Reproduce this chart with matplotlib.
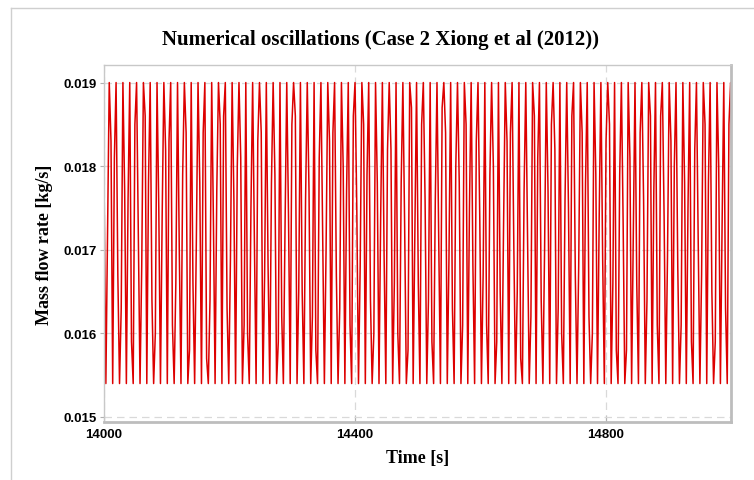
import matplotlib.pyplot as plt
from matplotlib.lines import Line2D

# Mass flow rate history, one entry per oscillation cycle
trough_times = [
    14003.0, 14013.9, 14024.8, 14035.7, 14046.6, 14057.5, 14068.3, 14079.2, 14090.1, 14101.0,
    14111.9, 14122.8, 14133.7, 14144.6, 14155.5, 14166.4, 14177.2, 14188.1, 14199.0, 14209.9,
    14220.8, 14231.7, 14242.6, 14253.5, 14264.4, 14275.3, 14286.1, 14297.0, 14307.9, 14318.8,
    14329.7, 14340.6, 14351.5, 14362.4, 14373.3, 14384.2, 14395.0, 14405.9, 14416.8, 14427.7,
    14438.6, 14449.5, 14460.4, 14471.3, 14482.2, 14493.1, 14503.9, 14514.8, 14525.7, 14536.6,
    14547.5, 14558.4, 14569.3, 14580.2, 14591.1, 14602.0, 14612.8, 14623.7, 14634.6, 14645.5,
    14656.4, 14667.3, 14678.2, 14689.1, 14700.0, 14710.9, 14721.7, 14732.6, 14743.5, 14754.4,
    14765.3, 14776.2, 14787.1, 14798.0, 14808.9, 14819.8, 14830.6, 14841.5, 14852.4, 14863.3,
    14874.2, 14885.1, 14896.0, 14906.9, 14917.8, 14928.7, 14939.5, 14950.4, 14961.3, 14972.2,
    14983.1, 14994.0,
]
rise_mid = [
    0.0172, 0.0181, 0.0163, 0.0176, 0.0185, 0.0168, 0.0178, 0.0160, 0.0174, 0.0183,
    0.0166, 0.0179, 0.0158, 0.0171, 0.0184, 0.0164, 0.0177, 0.0186, 0.0169, 0.0180,
    0.0161, 0.0175, 0.0183, 0.0167, 0.0178, 0.0159, 0.0173, 0.0185, 0.0165, 0.0176,
    0.0162, 0.0181, 0.0170, 0.0184, 0.0163, 0.0177, 0.0186, 0.0168, 0.0179, 0.0160,
    0.0174, 0.0182, 0.0166, 0.0178, 0.0158, 0.0172, 0.0185, 0.0164, 0.0176, 0.0187,
    0.0169, 0.0180, 0.0161, 0.0175, 0.0183, 0.0167, 0.0179, 0.0159, 0.0173, 0.0184,
    0.0165, 0.0177, 0.0162, 0.0181, 0.0170, 0.0185, 0.0163, 0.0176, 0.0186, 0.0168,
    0.0178, 0.0160, 0.0174, 0.0183, 0.0166, 0.0179, 0.0158, 0.0172, 0.0184, 0.0164,
    0.0177, 0.0186, 0.0169, 0.0180, 0.0161, 0.0175, 0.0182, 0.0167, 0.0178, 0.0159,
    0.0173, 0.0185,
]
fall_mid = [
    0.0183, 0.0167, 0.0177, 0.0159, 0.0172, 0.0186, 0.0164, 0.0175, 0.0182, 0.0161,
    0.0170, 0.0184, 0.0166, 0.0178, 0.0157, 0.0173, 0.0185, 0.0163, 0.0176, 0.0181,
    0.0160, 0.0171, 0.0184, 0.0168, 0.0179, 0.0162, 0.0174, 0.0186, 0.0165, 0.0177,
    0.0158, 0.0172, 0.0183, 0.0167, 0.0180, 0.0161, 0.0175, 0.0185, 0.0164, 0.0178,
    0.0169, 0.0182, 0.0160, 0.0173, 0.0187, 0.0166, 0.0176, 0.0159, 0.0171, 0.0184,
    0.0163, 0.0178, 0.0185, 0.0168, 0.0174, 0.0161, 0.0180, 0.0165, 0.0183, 0.0170,
    0.0157, 0.0172, 0.0186, 0.0164, 0.0177, 0.0182, 0.0160, 0.0175, 0.0167, 0.0184,
    0.0162, 0.0179, 0.0169, 0.0185, 0.0158, 0.0173, 0.0181, 0.0166, 0.0176, 0.0186,
    0.0161, 0.0174, 0.0183, 0.0168, 0.0178, 0.0159, 0.0171, 0.0185, 0.0165, 0.0180,
    0.0163, 0.0175,
]
peak_level = 0.0190
trough_level = 0.0154
start_time = 14000.0
start_value = 0.0179
# time of each sample within a cycle, relative to the trough
cycle_offsets = [0.0, 2.7, 5.4, 8.2]

xticks = [14000, 14400, 14800]
yticks = [0.015, 0.016, 0.017, 0.018, 0.019]

time = [start_time]
mdot = [start_value]
for tr, r, f in zip(trough_times, rise_mid, fall_mid):
    levels = [trough_level, r, peak_level, f]
    for dt, v in zip(cycle_offsets, levels):
        time.append(tr + dt)
        mdot.append(v)

fig = plt.figure(figsize=(7.54, 4.81), dpi=100)
ax = fig.add_axes([0.1379, 0.1206, 0.8316, 0.7422])

ax.plot(time, mdot, color='#dd0000', linewidth=1.1)

ax.set_xlim(14000, 15000)
ax.set_ylim(0.01494, 0.01921)
ax.set_xticks(xticks)
ax.set_yticks(yticks)
ax.set_xticklabels([str(x) for x in xticks])
ax.set_yticklabels(['%.3f' % y for y in yticks])
for lab in ax.get_xticklabels() + ax.get_yticklabels():
    lab.set_fontfamily('Liberation Sans')
    lab.set_fontweight('bold')
    lab.set_fontsize(9.5)

ax.tick_params(axis='y', direction='out', length=3, color='#b0b0b0', pad=2)
ax.tick_params(axis='x', direction='in', length=4, color='#b0b0b0', pad=4)
ax.grid(True, linestyle=(0, (6, 4)), color='#d9d9d9', linewidth=0.9)
ax.set_axisbelow(True)

for side in ['top', 'left']:
    ax.spines[side].set_color('#c8c8c8')
    ax.spines[side].set_linewidth(1.0)
for side in ['right', 'bottom']:
    ax.spines[side].set_color('#bdbdbd')
    ax.spines[side].set_linewidth(2.0)

fig.text(381 / 754, 1 - 40 / 481, 'Numerical oscillations (Case 2 Xiong et al (2012))',
         ha='center', va='center', fontfamily='Liberation Serif',
         fontweight='bold', fontsize=15)
ax.set_xlabel('Time [s]', fontfamily='Liberation Serif', fontweight='bold',
              fontsize=13, labelpad=7)
ax.set_ylabel('Mass flow rate [kg/s]', fontfamily='Liberation Serif',
              fontweight='bold', fontsize=13, labelpad=8)

# thin outer frame along top and left edges of the figure
fig.add_artist(Line2D([11 / 754, 1.0], [1 - 9 / 481, 1 - 9 / 481],
                      transform=fig.transFigure, color='#cfcfcf', linewidth=1.0))
fig.add_artist(Line2D([11 / 754, 11 / 754], [0.0, 1 - 9 / 481],
                      transform=fig.transFigure, color='#cfcfcf', linewidth=1.0))

fig.savefig('out.png', dpi=100)
